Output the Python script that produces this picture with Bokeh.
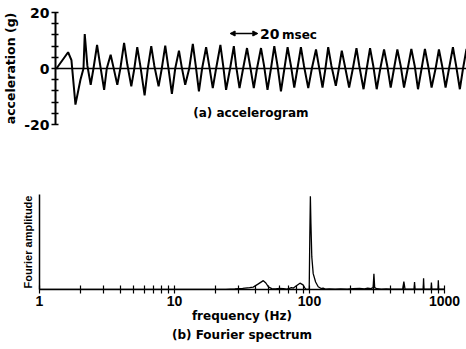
from bokeh.plotting import figure
from bokeh.models import Span, Label, Arrow, NormalHead, FixedTicker, Title, Range1d
from bokeh.embed import file_html
from bokeh.resources import INLINE

# ---- (a) accelerogram ----
time_ms = [0.7, 9.1, 11.5, 14.4, 18.0,
           20.2, 21.1, 23.0, 25.4, 27.4, 30.0, 31.9, 35.1, 37.0, 39.8, 41.8, 44.6,
           46.8, 49.5, 51.8, 54.7, 56.9, 59.0, 61.2, 64.3, 66.6, 69.1, 71.3, 74.4,
           76.7, 79.2, 81.4, 84.0, 86.4, 89.1, 91.1, 93.6, 96.5, 99.1, 101.2, 103.5,
           105.8, 108.7, 110.9, 113.5, 115.9, 119.0, 121.0, 123.1, 126.0, 128.7, 130.3, 132.8,
           135.4, 138.2, 140.4, 143.1, 145.4, 148.3, 150.5, 153.0, 155.5, 157.9, 160.2, 162.7,
           165.2, 167.5, 169.9, 172.3, 174.6, 177.1, 179.3, 182.4, 185.0, 188.0, 190.0, 192.7,
           194.8, 196.8, 199.1, 202.3, 204.5, 206.6, 208.8, 211.9, 214.6, 217.2, 219.2, 222.3,
           224.6, 227.0, 229.3, 231.8, 234.4, 237.1, 239.4, 241.9, 244.3, 246.7, 249.1, 251.5,
           254.2, 256.8, 259.2, 261.6, 264.2, 266.6, 268.9, 271.4, 274.3, 276.7, 279.0, 281.5,
           284.0, 286.8, 289.1, 291.8, 294.1, 296.6]
accel_g = [0, 5.8, 3, -12.9, -4,
           0, 12.3, 1, -5.8, 0, 8.4, 2.3, -7.6, 0, 4.9, 0.5, -5.8,
           0, 9.1, 1.5, -6.4, 0, 7.6, 1, -9.6, 0, 8, 1, -6.4,
           0, 8.2, 0.5, -9.1, 0, 6.4, 0.5, -5.8, 0, 8.8, 1, -8.2,
           0, 7.6, 1, -7, 0, 8.4, 1, -7.6, 0, 8, 1, -7,
           0, 7.3, 1, -7, 0, 7.3, 1, -7.6, 0, 8, 1, -8.2,
           0, 7.6, 1, -6.8, 0, 7.6, 1, -7, 0, 6.8, 1, -6.8,
           0, 7.6, 1, -6.2, 0, 6.4, 1, -6.8, 0, 7.3, 1, -7.4,
           0, 7.3, 1, -7.4, 0, 6.8, 1, -6.8, 0, 6.8, 1, -6.8,
           0, 7, 1, -7.4, 0, 7, 1, -6.8, 0, 6.8, 1, -6.8,
           0, 7.6, 1, -7.4, 0, 7]
acc_ticks = [-20, 0, 20]
acc_minor_ticks = [-16, -12, -8, -4, 4, 8, 12, 16]
acc_tick_labels = {-20: "-20", 0: "0", 20: "20"}
scale_bar_ms = 20
scale_bar_start = 126

# ---- (b) Fourier spectrum ----
freq_hz = [1, 5, 10, 20, 24, 28, 32, 36, 38.3, 41.8, 45.5, 47.5, 49.5,
           52.5, 56, 60, 64, 68, 71, 73.5, 76, 80, 85, 89.6, 92, 94, 97, 99.5,
           100.5, 101.5, 102.5, 104, 106.5, 111, 116, 122, 126, 131, 140, 155, 170,
           190, 210, 235, 255, 270, 285, 296, 300, 304, 315, 340, 370, 400, 440,
           490, 500, 510, 560, 595, 600, 605, 650, 695, 700, 705, 750, 795, 800,
           805, 850, 895, 900, 905, 950, 1000]
fourier_amp = [0, 0, 0, 0, 0.002, 0.006, 0.012, 0.02, 0.025, 0.06, 0.095, 0.07, 0.03,
               0.01, 0.006, 0.012, 0.01, 0.004, 0.012, 0.02, 0.015, 0.04, 0.068, 0.05, 0.02, 0.004, 0.002, 0.0,
               0.55, 1.0, 0.7, 0.35, 0.17, 0.08, 0.03, 0.01, 0.015, 0.004, 0.006, 0.003, 0.006,
               0.004, 0.008, 0.012, 0.006, 0.014, 0.01, 0.02, 0.17, 0.02, 0.008, 0.004, 0.006, 0.004, 0.004,
               0.003, 0.085, 0.003, 0.004, 0.003, 0.08, 0.003, 0.004, 0.003, 0.12, 0.003, 0.003, 0.003, 0.075,
               0.003, 0.004, 0.003, 0.1, 0.003, 0.003, 0.003]
freq_ticks = [1, 10, 100, 1000]
freq_minor_ticks = [2, 3, 4, 5, 6, 7, 8, 9, 20, 30, 40, 50, 60, 70, 80, 90,
                    200, 300, 400, 500, 600, 700, 800, 900]
freq_tick_labels = {1: "1", 10: "10", 100: "100", 1000: "1000"}

BOLD = "DejaVu Sans"

# ---------- top figure ----------
p1 = figure(width=466, height=148, x_range=Range1d(0, 296.6), y_range=Range1d(-20, 20),
            output_backend="svg", toolbar_location=None, x_axis_location=None,
            min_border_left=54, min_border_right=0, min_border_top=12, min_border_bottom=24)
p1.grid.visible = False
p1.outline_line_color = None

ya = p1.yaxis[0]
ya.ticker = FixedTicker(ticks=acc_ticks, minor_ticks=acc_minor_ticks)
ya.major_label_overrides = acc_tick_labels
ya.axis_line_width = 2
ya.axis_line_color = "black"
ya.major_tick_in = 3
ya.major_tick_out = 4
ya.minor_tick_in = 3
ya.minor_tick_out = 4
ya.major_tick_line_width = 1.5
ya.minor_tick_line_width = 1.5
ya.major_tick_line_color = "black"
ya.minor_tick_line_color = "black"
ya.major_label_text_font = BOLD
ya.major_label_text_font_style = "bold"
ya.major_label_text_font_size = "14px"
ya.major_label_text_color = "black"
ya.major_label_standoff = 2
ya.axis_label = "acceleration (g)"
ya.axis_label_text_font = BOLD
ya.axis_label_text_font_style = "bold"
ya.axis_label_text_font_size = "12.5px"
ya.axis_label_text_color = "black"
ya.axis_label_standoff = 3

p1.add_layout(Span(location=0, dimension="width", line_color="black", line_width=1.5))
p1.line(time_ms, accel_g, line_color="black", line_width=2)

p1.add_layout(Label(x=141, y=-16, text="(a) accelerogram", text_align="center",
                    text_baseline="middle", text_font=BOLD, text_font_style="bold",
                    text_font_size="12px", text_color="black"))
p1.add_layout(Arrow(x_start=scale_bar_start, x_end=scale_bar_start + scale_bar_ms,
                    y_start=12.5, y_end=12.5, line_width=1.5, line_color="black",
                    start=NormalHead(size=5, fill_color="black", line_color="black"),
                    end=NormalHead(size=5, fill_color="black", line_color="black")))
p1.add_layout(Label(x=scale_bar_start + scale_bar_ms + 1.5, y=12.5, text=str(scale_bar_ms),
                    text_align="left", text_baseline="middle", text_font=BOLD,
                    text_font_style="bold", text_font_size="14px", text_color="black"))
p1.add_layout(Label(x=scale_bar_start + scale_bar_ms + 17.5, y=12, text="msec",
                    text_align="left", text_baseline="middle", text_font=BOLD,
                    text_font_style="bold", text_font_size="12px", text_color="black"))

# ---------- bottom figure ----------
p2 = figure(width=466, height=201, x_axis_type="log", x_range=Range1d(1, 1000),
            y_range=Range1d(0, 1.02), output_backend="svg", toolbar_location=None,
            min_border_left=39, min_border_right=22, min_border_top=46, min_border_bottom=60)
p2.grid.visible = False
p2.outline_line_color = None

xa = p2.xaxis[0]
xa.ticker = FixedTicker(ticks=freq_ticks, minor_ticks=freq_minor_ticks)
xa.major_label_overrides = freq_tick_labels
xa.axis_line_width = 1.5
xa.axis_line_color = "black"
xa.major_tick_in = 4
xa.major_tick_out = 4
xa.minor_tick_in = 4
xa.minor_tick_out = 4
xa.major_tick_line_color = "black"
xa.minor_tick_line_color = "black"
xa.major_tick_line_width = 1.2
xa.minor_tick_line_width = 1.2
xa.major_label_text_font = "Liberation Sans"
xa.major_label_text_font_style = "bold"
xa.major_label_text_font_size = "14px"
xa.major_label_text_color = "black"
xa.major_label_standoff = 2
xa.axis_label = "frequency (Hz)"
xa.axis_label_text_font = BOLD
xa.axis_label_text_font_style = "bold"
xa.axis_label_text_font_size = "12px"
xa.axis_label_text_color = "black"
xa.axis_label_standoff = 0

yb = p2.yaxis[0]
yb.ticker = FixedTicker(ticks=[])
yb.major_label_text_font_size = "0px"
yb.major_label_standoff = 0
yb.major_tick_in = 0
yb.major_tick_out = 0
yb.minor_tick_in = 0
yb.minor_tick_out = 0
yb.axis_line_width = 1.5
yb.axis_line_color = "black"
yb.axis_label = "Fourier amplitude"
yb.axis_label_text_font = "Liberation Sans"
yb.axis_label_text_font_style = "bold"
yb.axis_label_text_font_size = "11px"
yb.axis_label_text_color = "black"
yb.axis_label_standoff = 6

p2.add_layout(Title(text="(b) Fourier spectrum", align="center", text_font=BOLD,
                    text_font_style="bold", text_font_size="12px", text_color="black",
                    standoff=0, offset=-6), "below")

p2.line(freq_hz, fourier_amp, line_color="black", line_width=1.3)

open("out.html", "w").write(file_html([p1, p2], INLINE))
